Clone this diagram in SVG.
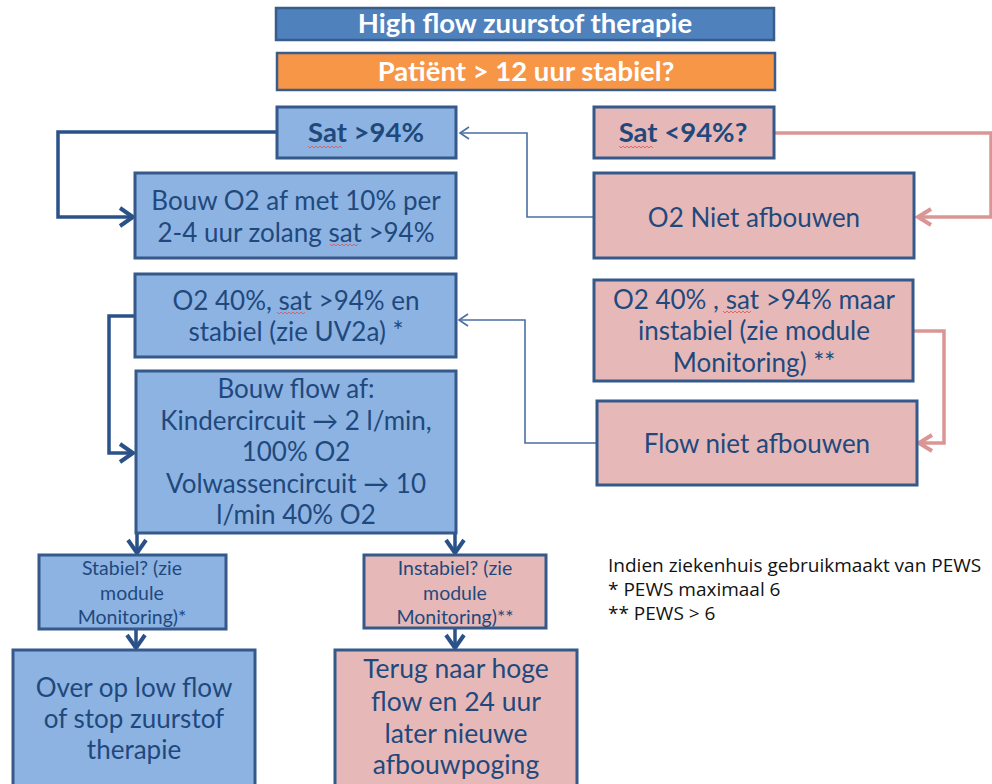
<svg xmlns="http://www.w3.org/2000/svg" width="992" height="784" viewBox="0 0 992 784">
<defs>
<style>
.hdr{font-family:Lato,"Liberation Sans",sans-serif;font-weight:bold;fill:#ffffff;text-anchor:middle}
.t{font-family:Lato,"Liberation Sans",sans-serif;fill:#1f497d;text-anchor:middle}
.tb{font-family:Lato,"Liberation Sans",sans-serif;font-weight:bold;fill:#1f497d;text-anchor:middle}
.note{font-family:"Open Sans","Noto Sans",sans-serif;fill:#111111;font-size:19px}
.blue{fill:#8db3e2;stroke:#35598a;stroke-width:3}
.pink{fill:#e6b9b8;stroke:#35598a;stroke-width:3}
.thick{fill:none;stroke:#2a5188;stroke-width:3.5;stroke-linejoin:miter}
.thin{fill:none;stroke:#4a6fa3;stroke-width:1.6}
.pinkc{fill:none;stroke:#d99694;stroke-width:3.5}
.sq{fill:none;stroke:#e05050;stroke-width:0.8}
</style>
<marker id="aThick" markerUnits="userSpaceOnUse" viewBox="-16 -12 18 24" markerWidth="18" markerHeight="24" refX="0" refY="0" orient="auto" overflow="visible">
<path d="M-13,-9 L0,0 L-13,9" fill="none" stroke="#2a5188" stroke-width="4"/>
</marker>
<marker id="aThin" markerUnits="userSpaceOnUse" viewBox="-12 -8 14 16" markerWidth="14" markerHeight="16" refX="0" refY="0" orient="auto" overflow="visible">
<path d="M-9,-6 L0,0 L-9,6" fill="none" stroke="#4a6fa3" stroke-width="1.6"/>
</marker>
<marker id="aPink" markerUnits="userSpaceOnUse" viewBox="-16 -12 18 24" markerWidth="18" markerHeight="24" refX="0" refY="0" orient="auto" overflow="visible">
<path d="M-13,-8 L0,0 L-13,8" fill="none" stroke="#d99694" stroke-width="4"/>
</marker>
</defs>
<rect width="992" height="784" fill="#ffffff"/>

<g id="connectors">
<path class="thick" d="M276,132 H58 V217 H133" marker-end="url(#aThick)"/>
<path class="thin" d="M593,217 H527 V133 H460" marker-end="url(#aThin)"/>
<path class="pinkc" d="M774,133 H991 V217 H918" marker-end="url(#aPink)"/>
<path class="thick" d="M135,316 H109 V453 H133" marker-end="url(#aThick)"/>
<path class="thin" d="M597,443 H525 V320 H459" marker-end="url(#aThin)"/>
<path class="pinkc" d="M913,331 H944 V443 H919" marker-end="url(#aPink)"/>
<path class="thick" d="M137,498 V553" marker-end="url(#aThick)"/>
<path class="thick" d="M455,498 V553" marker-end="url(#aThick)"/>
<path class="thick" d="M136,629 V648" marker-end="url(#aThick)"/>
<path class="thick" d="M455,628 V648" marker-end="url(#aThick)"/>
</g>

<g id="n-highflow">
<rect x="276" y="8" width="498" height="32" fill="#4f81bd" stroke="#385d8a" stroke-width="2.5"/>
<text class="hdr" x="525" y="33" font-size="27.5">High flow zuurstof therapie</text>
</g>
<g id="n-patient">
<rect x="277" y="53" width="498" height="37" fill="#f79646" stroke="#385d8a" stroke-width="2.5"/>
<text class="hdr" x="526" y="81" font-size="27.5">Patiënt &gt; 12 uur stabiel?</text>
</g>
<g id="n-sathigh">
<rect class="blue" x="277" y="107" width="179" height="51"/>
<text class="tb" x="366" y="142" font-size="27.5">Sat &gt;94%</text>
<path class="sq" d="M308,146 l2,2 l2,-2 l2,2 l2,-2 l2,2 l2,-2 l2,2 l2,-2 l2,2 l2,-2 l2,2 l2,-2 l2,2 l2,-2 l2,2 l2,-2 l2,2"/>
</g>
<g id="n-satlow">
<rect class="pink" x="594" y="107" width="180" height="51"/>
<text class="tb" x="683" y="142" font-size="27.5">Sat &lt;94%?</text>
<path class="sq" d="M619,146 l2,2 l2,-2 l2,2 l2,-2 l2,2 l2,-2 l2,2 l2,-2 l2,2 l2,-2 l2,2 l2,-2 l2,2 l2,-2 l2,2 l2,-2 l2,2"/>
</g>
<g id="n-bouwo2">
<rect class="blue" x="135" y="173" width="321" height="85"/>
<text class="t" x="296" y="210" font-size="26">Bouw O2 af met 10% per</text>
<text class="t" x="296" y="242" font-size="26">2-4 uur zolang sat &gt;94%</text>
<path class="sq" d="M330,244 l2,2 l2,-2 l2,2 l2,-2 l2,2 l2,-2 l2,2 l2,-2 l2,2 l2,-2 l2,2 l2,-2 l2,2 l2,-2"/>
</g>
<g id="n-o2niet">
<rect class="pink" x="594" y="173" width="320" height="85"/>
<text class="t" x="754" y="227" font-size="26">O2 Niet afbouwen</text>
</g>
<g id="n-o2stabiel">
<rect class="blue" x="135" y="274" width="321" height="83"/>
<text class="t" x="296" y="310" font-size="26">O2 40%, sat &gt;94% en</text>
<text class="t" x="296" y="341" font-size="26">stabiel (zie UV2a) *</text>
<path class="sq" d="M277,312 l2,2 l2,-2 l2,2 l2,-2 l2,2 l2,-2 l2,2 l2,-2 l2,2 l2,-2 l2,2 l2,-2 l2,2 l2,-2"/>
</g>
<g id="n-o2instabiel">
<rect class="pink" x="594" y="280" width="319" height="101"/>
<text class="t" x="754" y="309" font-size="26">O2 40% , sat &gt;94% maar</text>
<text class="t" x="754" y="340" font-size="26">instabiel (zie module</text>
<text class="t" x="754" y="372" font-size="26">Monitoring) **</text>
<path class="sq" d="M723,311 l2,2 l2,-2 l2,2 l2,-2 l2,2 l2,-2 l2,2 l2,-2 l2,2 l2,-2 l2,2 l2,-2 l2,2 l2,-2"/>
</g>
<g id="n-bouwflow">
<rect class="blue" x="136" y="371" width="320" height="162"/>
<text class="t" x="296" y="398" font-size="26">Bouw flow af:</text>
<text class="t" x="296" y="430" font-size="26">Kindercircuit → 2 l/min,</text>
<text class="t" x="296" y="461" font-size="26">100% O2</text>
<text class="t" x="296" y="493" font-size="26">Volwassencircuit → 10</text>
<text class="t" x="296" y="524" font-size="26">l/min 40% O2</text>
</g>
<g id="n-flowniet">
<rect class="pink" x="597" y="401" width="320" height="84"/>
<text class="t" x="757" y="453" font-size="26">Flow niet afbouwen</text>
</g>
<g id="n-stabiel">
<rect class="blue" x="39" y="555" width="187" height="74"/>
<text class="t" x="132" y="575" font-size="19.5">Stabiel? (zie</text>
<text class="t" x="132" y="600" font-size="19.5">module</text>
<text class="t" x="132" y="624" font-size="19.5">Monitoring)*</text>
</g>
<g id="n-instabiel">
<rect class="pink" x="364" y="555" width="182" height="73"/>
<text class="t" x="455" y="575" font-size="19.5">Instabiel? (zie</text>
<text class="t" x="455" y="600" font-size="19.5">module</text>
<text class="t" x="455" y="624" font-size="19.5">Monitoring)**</text>
</g>
<g id="n-over">
<rect class="blue" x="13" y="650" width="242" height="140"/>
<text class="t" x="134" y="697" font-size="26">Over op low flow</text>
<text class="t" x="134" y="728" font-size="26">of stop zuurstof</text>
<text class="t" x="134" y="759" font-size="26">therapie</text>
</g>
<g id="n-terug">
<rect class="pink" x="335" y="650" width="242" height="140"/>
<text class="t" x="456" y="678" font-size="26.5">Terug naar hoge</text>
<text class="t" x="456" y="711" font-size="26.5">flow en 24 uur</text>
<text class="t" x="456" y="743" font-size="26.5">later nieuwe</text>
<text class="t" x="456" y="774" font-size="26.5">afbouwpoging</text>
</g>
<g id="legend">
<text class="note" x="608" y="572">Indien ziekenhuis gebruikmaakt van PEWS</text>
<text class="note" x="608" y="596">* PEWS maximaal 6</text>
<text class="note" x="608" y="620">** PEWS &gt; 6</text>
</g>
</svg>
